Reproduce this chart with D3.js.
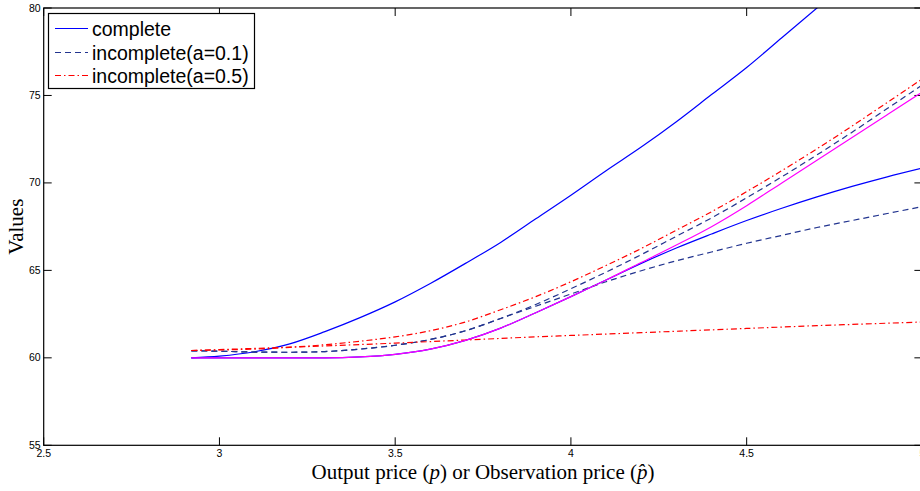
<!DOCTYPE html>
<html>
<head>
<meta charset="utf-8">
<script src="https://cdn.jsdelivr.net/npm/d3@7"></script>
<style>
  body { margin: 0; background: #fff; }
  svg { display: block; }
  .tick-label { font-family: "Liberation Sans", Arial, sans-serif; font-size: 10.5px; fill: #000; }
  .axis-title { font-family: "Liberation Serif", "Times New Roman", serif; font-size: 21px; fill: #000; }
  .legend-text { font-family: "Liberation Sans", Arial, sans-serif; font-size: 19.5px; fill: #000; }
</style>
</head>
<body>
<div id="vis"></div>
<script>
const priceX = [2.92, 3.0, 3.1, 3.2, 3.3, 3.4, 3.5, 3.6, 3.7, 3.8, 3.9, 4.0, 4.1, 4.2, 4.3, 4.4, 4.5, 4.6, 4.7, 4.8, 4.9, 5.0];

const completeHigh = [60.0, 60.1, 60.35, 60.8, 61.5, 62.3, 63.2, 64.25, 65.4, 66.6, 67.95, 69.3, 70.7, 72.05, 73.5, 75.05, 76.6, 78.3, 80.0, 81.7, 83.4, 85.1];
const completeLow = [60.0, 60.0, 60.0, 60.0, 60.0, 60.05, 60.2, 60.5, 61.0, 61.7, 62.58, 63.5, 64.45, 65.4, 66.28, 67.08, 67.85, 68.55, 69.2, 69.8, 70.35, 70.85];
const incomplete01High = [60.4, 60.38, 60.33, 60.32, 60.36, 60.5, 60.72, 61.05, 61.55, 62.25, 63.05, 63.95, 64.9, 65.9, 66.95, 68.0, 69.15, 70.35, 71.6, 72.9, 74.25, 75.6];
const incomplete01Low = [60.4, 60.38, 60.33, 60.32, 60.36, 60.5, 60.72, 61.05, 61.55, 62.25, 62.95, 63.65, 64.35, 64.98, 65.55, 66.05, 66.55, 67.0, 67.45, 67.85, 68.25, 68.65];
const incomplete05High = [60.42, 60.45, 60.5, 60.6, 60.75, 60.95, 61.2, 61.55, 62.05, 62.75, 63.5, 64.35, 65.28, 66.25, 67.3, 68.35, 69.5, 70.7, 71.95, 73.25, 74.6, 75.95];
const incomplete05Low = [60.42, 60.47, 60.54, 60.61, 60.68, 60.76, 60.84, 60.93, 61.02, 61.11, 61.2, 61.28, 61.36, 61.44, 61.52, 61.6, 61.68, 61.76, 61.84, 61.91, 61.98, 62.05];
const observed = [60.0, 60.0, 60.0, 60.0, 60.0, 60.05, 60.2, 60.5, 61.0, 61.7, 62.58, 63.5, 64.45, 65.45, 66.45, 67.5, 68.7, 70.0, 71.3, 72.6, 73.9, 75.2];

const xTicks = [2.5, 3, 3.5, 4, 4.5, 5];
const yTicks = [55, 60, 65, 70, 75, 80];
const legendLabels = ["complete", "incomplete(a=0.1)", "incomplete(a=0.5)"];

const BLUE = "#0000ff";
const NAVY = "#22348f";
const RED = "#ff0000";
const MAGENTA = "#ff00ff";

const width = 920;
const height = 491;
const margin = { top: 8, right: -2.4, bottom: 45.7, left: 43.7 };

const x = d3.scaleLinear().domain([2.5, 5]).range([margin.left, width - margin.right]);
const y = d3.scaleLinear().domain([55, 80]).range([height - margin.bottom, margin.top]);

const svg = d3.select("#vis").append("svg").attr("width", width).attr("height", height);

svg.append("clipPath").attr("id", "plot-clip")
  .append("rect")
  .attr("x", x(2.5)).attr("y", y(80))
  .attr("width", x(5) - x(2.5)).attr("height", y(55) - y(80));

// inward ticks on all four sides
const tickLen = 8;
const ticks = svg.append("g").attr("stroke", "#000").attr("stroke-width", 1);
xTicks.forEach((t) => {
  ticks.append("line").attr("x1", x(t)).attr("x2", x(t)).attr("y1", y(55)).attr("y2", y(55) - tickLen);
  ticks.append("line").attr("x1", x(t)).attr("x2", x(t)).attr("y1", y(80)).attr("y2", y(80) + tickLen);
});
yTicks.forEach((t) => {
  ticks.append("line").attr("x1", x(2.5)).attr("x2", x(2.5) + tickLen).attr("y1", y(t)).attr("y2", y(t));
  ticks.append("line").attr("x1", x(5)).attr("x2", x(5) - tickLen).attr("y1", y(t)).attr("y2", y(t));
});

svg.selectAll(".x-label").data(xTicks).join("text")
  .attr("class", "tick-label")
  .attr("x", (d) => x(d)).attr("y", y(55) + 12)
  .attr("text-anchor", "middle")
  .text((d) => d);

svg.selectAll(".y-label").data(yTicks).join("text")
  .attr("class", "tick-label")
  .attr("x", x(2.5) - 3).attr("y", (d) => y(d) + 3.5)
  .attr("text-anchor", "end")
  .text((d) => d);

const line = d3.line()
  .x((d) => x(d[0]))
  .y((d) => y(d[1]))
  .curve(d3.curveMonotoneX);

const series = [
  { values: completeHigh, color: BLUE, dash: null },
  { values: completeLow, color: BLUE, dash: null },
  { values: incomplete01High, color: NAVY, dash: "6,4" },
  { values: incomplete01Low, color: NAVY, dash: "6,4" },
  { values: incomplete05High, color: RED, dash: "6,3,1.5,3" },
  { values: incomplete05Low, color: RED, dash: "6,3,1.5,3" },
  { values: observed, color: MAGENTA, dash: null },
];

svg.append("g").attr("clip-path", "url(#plot-clip)")
  .selectAll("path").data(series).join("path")
  .attr("fill", "none")
  .attr("stroke", (d) => d.color)
  .attr("stroke-width", 1.2)
  .attr("stroke-dasharray", (d) => d.dash)
  .attr("d", (d) => line(priceX.map((p, i) => [p, d.values[i]])));

// axis box
svg.append("rect")
  .attr("x", x(2.5)).attr("y", y(80))
  .attr("width", x(5) - x(2.5)).attr("height", y(55) - y(80))
  .attr("fill", "none").attr("stroke", "#000").attr("stroke-width", 1.2);

// legend
const legend = svg.append("g");
legend.append("rect")
  .attr("x", 48.5).attr("y", 13.5).attr("width", 206).attr("height", 75)
  .attr("fill", "#fff").attr("stroke", "#000").attr("stroke-width", 1.2);

const legendItems = [
  { label: legendLabels[0], color: BLUE, dash: null },
  { label: legendLabels[1], color: NAVY, dash: "6,4" },
  { label: legendLabels[2], color: RED, dash: "6,3,1.5,3" },
];
legendItems.forEach((d, i) => {
  const cy = Math.round(28 + i * 23.5) + 0.5;
  legend.append("line")
    .attr("x1", 55).attr("x2", 88).attr("y1", cy).attr("y2", cy)
    .attr("stroke", d.color).attr("stroke-width", 1.2)
    .attr("stroke-dasharray", d.dash);
  legend.append("text")
    .attr("class", "legend-text")
    .attr("x", 92).attr("y", cy + 7)
    .text(d.label);
});

// axis titles
const xTitle = svg.append("text")
  .attr("class", "axis-title")
  .attr("x", (x(2.5) + x(5)) / 2).attr("y", 479)
  .attr("text-anchor", "middle");
xTitle.append("tspan").text("Output price (");
xTitle.append("tspan").attr("font-style", "italic").text("p");
xTitle.append("tspan").text(") or Observation price (");
xTitle.append("tspan").attr("font-style", "italic").text("p\u0302");
xTitle.append("tspan").text(")");

svg.append("text")
  .attr("class", "axis-title")
  .attr("transform", `translate(23,${(y(55) + y(80)) / 2}) rotate(-90)`)
  .attr("text-anchor", "middle")
  .text("Values");
</script>
</body>
</html>
